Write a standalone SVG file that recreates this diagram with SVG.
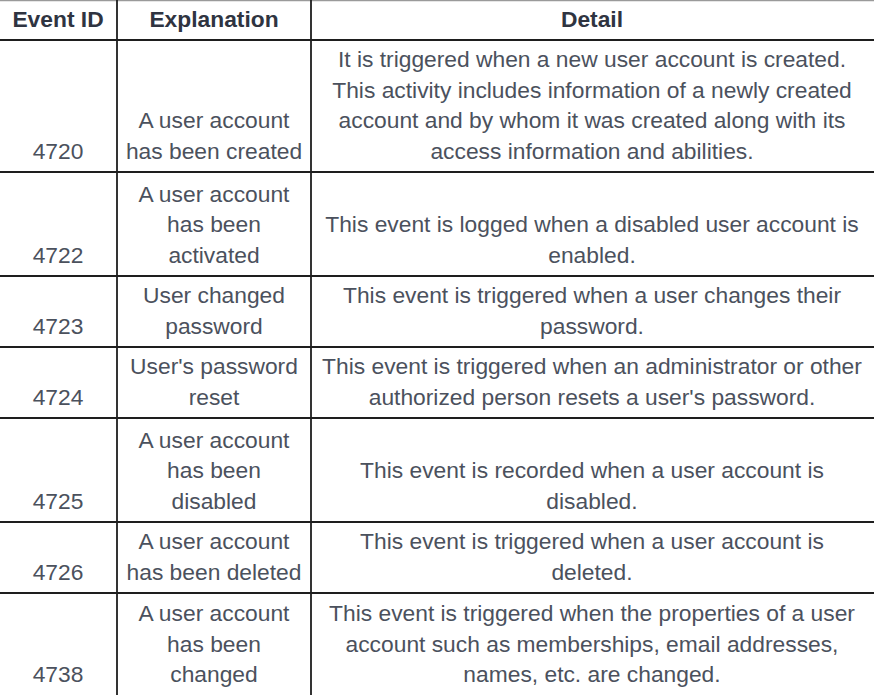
<svg xmlns="http://www.w3.org/2000/svg" width="874" height="695" viewBox="0 0 874 695">
<style>
.t{font-family:"Liberation Sans",Arial,sans-serif;font-size:22.8px;fill:#4b515d;text-anchor:middle}
.h{font-family:"Liberation Sans",Arial,sans-serif;font-size:22.8px;font-weight:bold;fill:#2f3441;text-anchor:middle}
.ln{stroke:#1e1e1e;stroke-width:1.8;fill:none}
</style>
<rect width="874" height="695" fill="#ffffff"/>
<g id="grid">
<line x1="0" y1="0.5" x2="874" y2="0.5" stroke="#9a9a9a" stroke-width="1.5"/>
<path class="ln" d="M0 40H874M0 172H874M0 276H874M0 347H874M0 418H874M0 522H874M0 593H874M117 0V695M311 0V695"/>
</g>
<g id="header">
<text class="h" x="58" y="27">Event ID</text>
<text class="h" x="214" y="27">Explanation</text>
<text class="h" x="592" y="27">Detail</text>
</g>
<g id="row-4720">
<text class="t" x="58" y="158.5">4720</text>
<text class="t" x="214" y="128">A user account</text>
<text class="t" x="214" y="158.5">has been created</text>
<text class="t" x="592" y="67">It is triggered when a new user account is created.</text>
<text class="t" x="592" y="97.5">This activity includes information of a newly created</text>
<text class="t" x="592" y="128">account and by whom it was created along with its</text>
<text class="t" x="592" y="158.5">access information and abilities.</text>
</g>
<g id="row-4722">
<text class="t" x="58" y="262.5">4722</text>
<text class="t" x="214" y="201.5">A user account</text>
<text class="t" x="214" y="232">has been</text>
<text class="t" x="214" y="262.5">activated</text>
<text class="t" x="592" y="232">This event is logged when a disabled user account is</text>
<text class="t" x="592" y="262.5">enabled.</text>
</g>
<g id="row-4723">
<text class="t" x="58" y="333.5">4723</text>
<text class="t" x="214" y="303">User changed</text>
<text class="t" x="214" y="333.5">password</text>
<text class="t" x="592" y="303">This event is triggered when a user changes their</text>
<text class="t" x="592" y="333.5">password.</text>
</g>
<g id="row-4724">
<text class="t" x="58" y="404.5">4724</text>
<text class="t" x="214" y="374">User's password</text>
<text class="t" x="214" y="404.5">reset</text>
<text class="t" x="592" y="374">This event is triggered when an administrator or other</text>
<text class="t" x="592" y="404.5">authorized person resets a user's password.</text>
</g>
<g id="row-4725">
<text class="t" x="58" y="508.5">4725</text>
<text class="t" x="214" y="447.5">A user account</text>
<text class="t" x="214" y="478">has been</text>
<text class="t" x="214" y="508.5">disabled</text>
<text class="t" x="592" y="478">This event is recorded when a user account is</text>
<text class="t" x="592" y="508.5">disabled.</text>
</g>
<g id="row-4726">
<text class="t" x="58" y="579.5">4726</text>
<text class="t" x="214" y="549">A user account</text>
<text class="t" x="214" y="579.5">has been deleted</text>
<text class="t" x="592" y="549">This event is triggered when a user account is</text>
<text class="t" x="592" y="579.5">deleted.</text>
</g>
<g id="row-4738">
<text class="t" x="58" y="682">4738</text>
<text class="t" x="214" y="621">A user account</text>
<text class="t" x="214" y="651.5">has been</text>
<text class="t" x="214" y="682">changed</text>
<text class="t" x="592" y="621">This event is triggered when the properties of a user</text>
<text class="t" x="592" y="651.5">account such as memberships, email addresses,</text>
<text class="t" x="592" y="682">names, etc. are changed.</text>
</g>
</svg>
